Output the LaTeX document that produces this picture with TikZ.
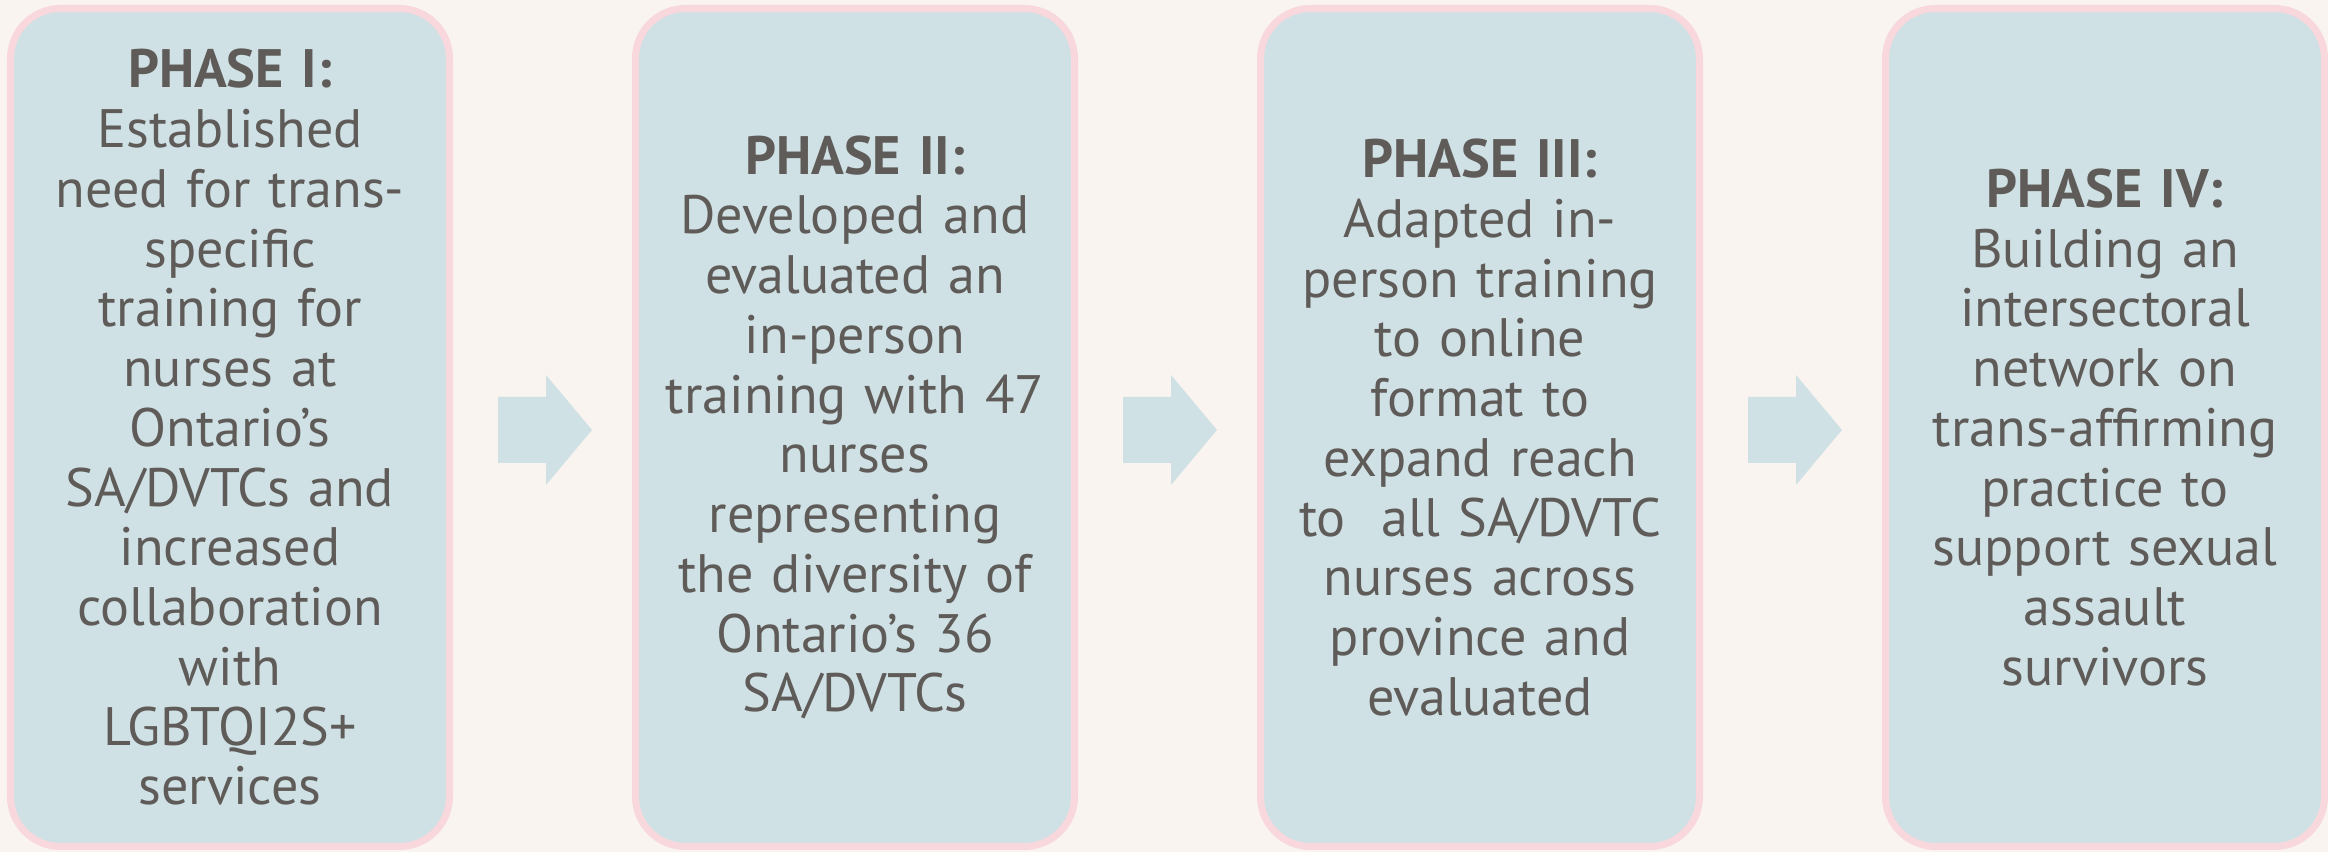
\documentclass[tikz,border=0pt]{standalone}
\usepackage{fontspec}
\setmainfont{PT Sans}
\usetikzlibrary{calc}
\definecolor{bgcream}{HTML}{F9F4F0}
\definecolor{phasefill}{HTML}{CFE1E5}
\definecolor{phaseline}{HTML}{F8D7DD}
\definecolor{phasetext}{HTML}{5F5B58}
\tikzset{
  phase/.style={draw=phaseline, line width=0.07cm, fill=phasefill,
    rounded corners=0.5cm, minimum width=4.39cm, minimum height=8.38cm,
    text width=4.3cm, align=center, text=phasetext, inner sep=0pt, outer sep=0pt,
    font=\fontsize{15.4}{17}\selectfont},
  nextarrow/.style={fill=phasefill}
}
\begin{document}
\begin{tikzpicture}
  \useasboundingbox (0,0) rectangle (23.28,8.52);
  \fill[bgcream] (0,0) rectangle (23.28,8.52);

  % the four phases
  \node[phase] (p1) at (2.30,4.245) {\textbf{PHASE I:}\\ Established\\ need for trans-\\ specific\\ training for\\ nurses at\\ Ontario’s\\ SA/DVTCs and\\ increased\\ collaboration\\ with\\ LGBTQI2S+\\ services};
  \node[phase] (p2) at (8.55,4.245) {\textbf{PHASE II:}\\ Developed and\\ evaluated an\\ in-person\\ training with 47\\ nurses\\ representing\\ the diversity of\\ Ontario’s 36\\ SA/DVTCs};
  \node[phase] (p3) at (14.80,4.245) {\textbf{PHASE III:}\\ Adapted in-\\ person training\\ to online\\ format to\\ expand reach\\ to~ all SA/DVTC\\ nurses across\\ province and\\ evaluated};
  \node[phase] (p4) at (21.05,4.245) {\textbf{PHASE IV:}\\ Building an\\ intersectoral\\ network on\\ trans-affirming\\ practice to\\ support sexual\\ assault\\ survivors};

  % arrows between phases
  \foreach \i/\j in {1/2,2/3,3/4}
  {
    \coordinate (m\i) at ($(p\i.east)!0.5!(p\j.west)+(0.025,-0.025)$);
    \fill[nextarrow] (m\i) ++(-0.47,0.33) -- ++(0.48,0) -- ++(0,0.22)
      -- ++(0.46,-0.55) -- ++(-0.46,-0.55) -- ++(0,0.22) -- ++(-0.48,0) -- cycle;
  }
\end{tikzpicture}
\end{document}
